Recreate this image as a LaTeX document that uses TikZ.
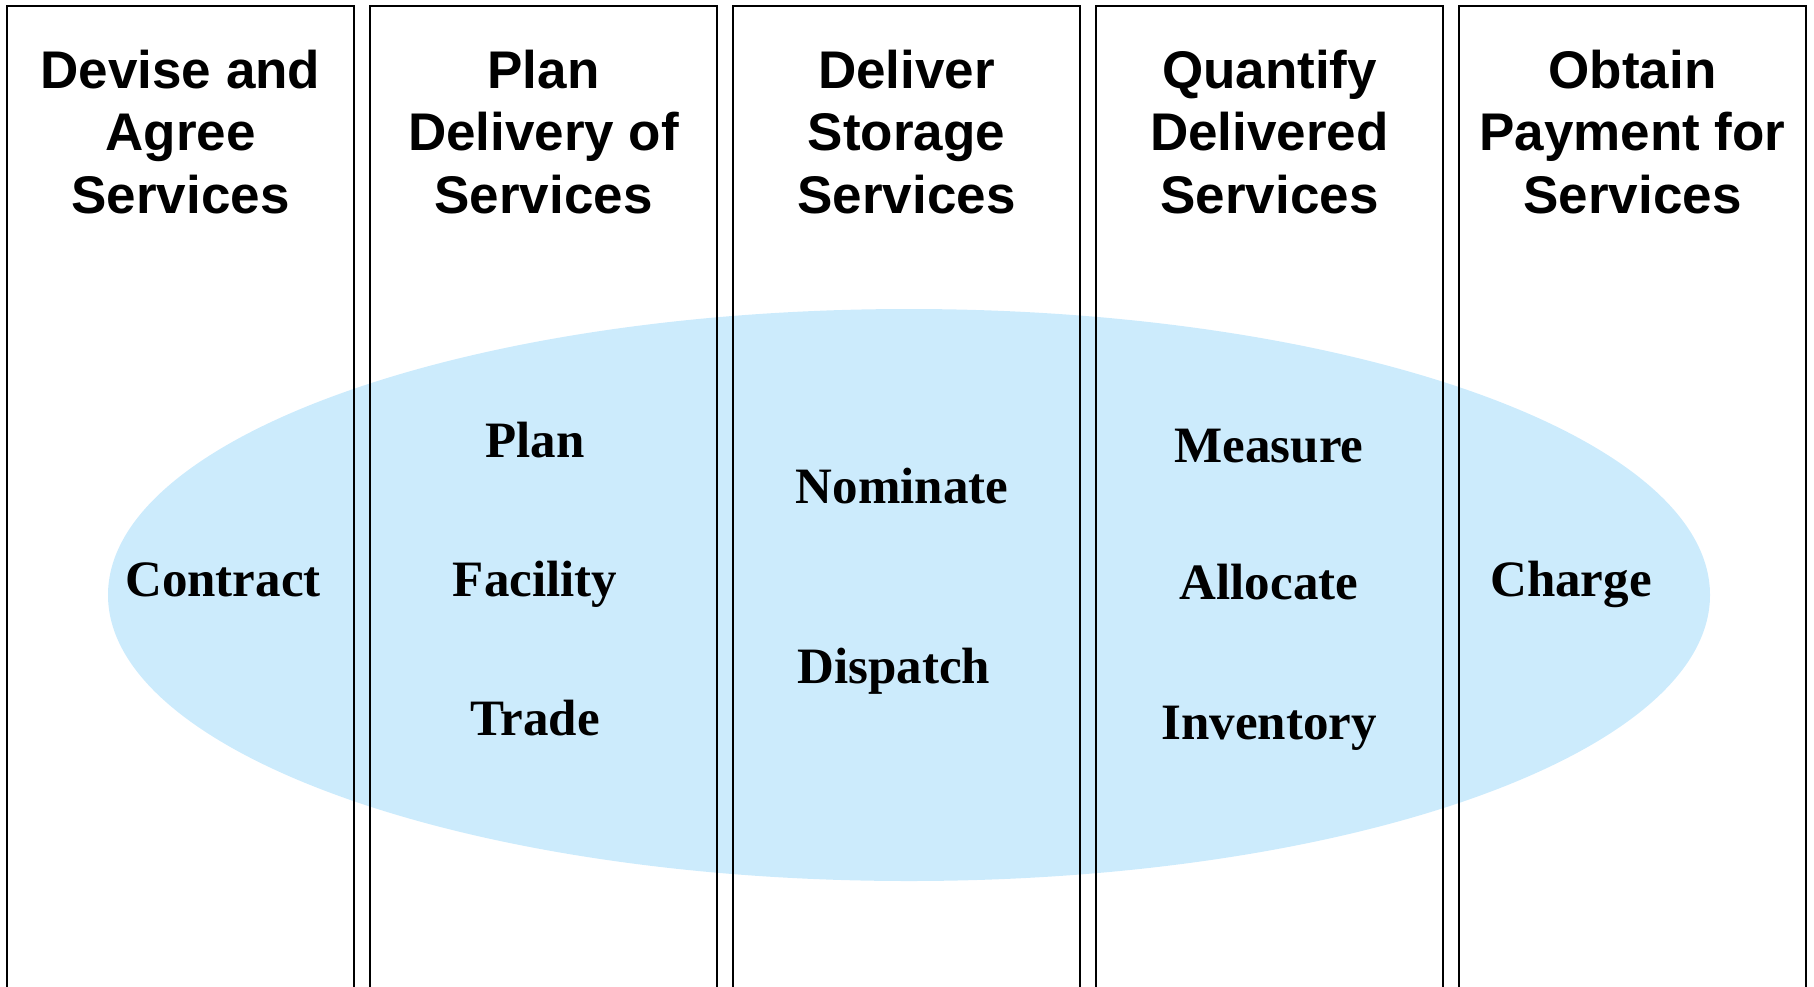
\documentclass[tikz,border=0pt]{standalone}
\usepackage{fontspec}
\setmainfont{Liberation Serif}
\setsansfont{Liberation Sans}
\usepackage{xcolor}
\definecolor{oval_blue}{RGB}{204,235,252}

\begin{document}
\begin{tikzpicture}[x=0.5pt,y=-0.5pt,
    head/.style={font=\sffamily\bfseries\fontsize{26.5}{31.25}\selectfont,align=center,anchor=north,inner sep=0pt},
    task/.style={font=\bfseries\fontsize{25.5}{30}\selectfont,anchor=base,inner sep=0pt}]
            \useasboundingbox (0,0) rectangle (1814,986);
            %ellipse
            \fill[oval_blue] (909,595) ellipse [x radius=801,y radius=286];
            %columns
            \foreach \l in {7,370,733,1096,1459}
                \draw[line width=0.9pt] (\l,992)--(\l,6)--(\l+347,6)--(\l+347,992);
            %headings
            \node[head] (devise) at (180.5,49.5) {Devise and\\Agree\\Services};
            \node[head] (plandel) at (543.5,49.5) {Plan\\Delivery of\\Services};
            \node[head] (deliver) at (906.5,49.5) {Deliver\\Storage\\Services};
            \node[head] (quantify) at (1269.5,49.5) {Quantify\\Delivered\\Services};
            \node[head] (obtain) at (1632.5,49.5) {Obtain\\Payment for\\Services};
            %tasks
            \node[task] (contract) at (223,596.5) {Contract};
            \node[task] (plan) at (535,457.5) {Plan};
            \node[task] (facility) at (535,596.5) {Facility};
            \node[task] (trade) at (535,735.5) {Trade};
            \node[task] (nominate) at (902,503.5) {Nominate};
            \node[task] (dispatch) at (894,683.5) {Dispatch};
            \node[task] (measure) at (1269,462.5) {Measure};
            \node[task] (allocate) at (1269,599.5) {Allocate};
            \node[task] (inventory) at (1269,739.5) {Inventory};
            \node[task] (charge) at (1571,596.5) {Charge};
        \end{tikzpicture}
\end{document}
